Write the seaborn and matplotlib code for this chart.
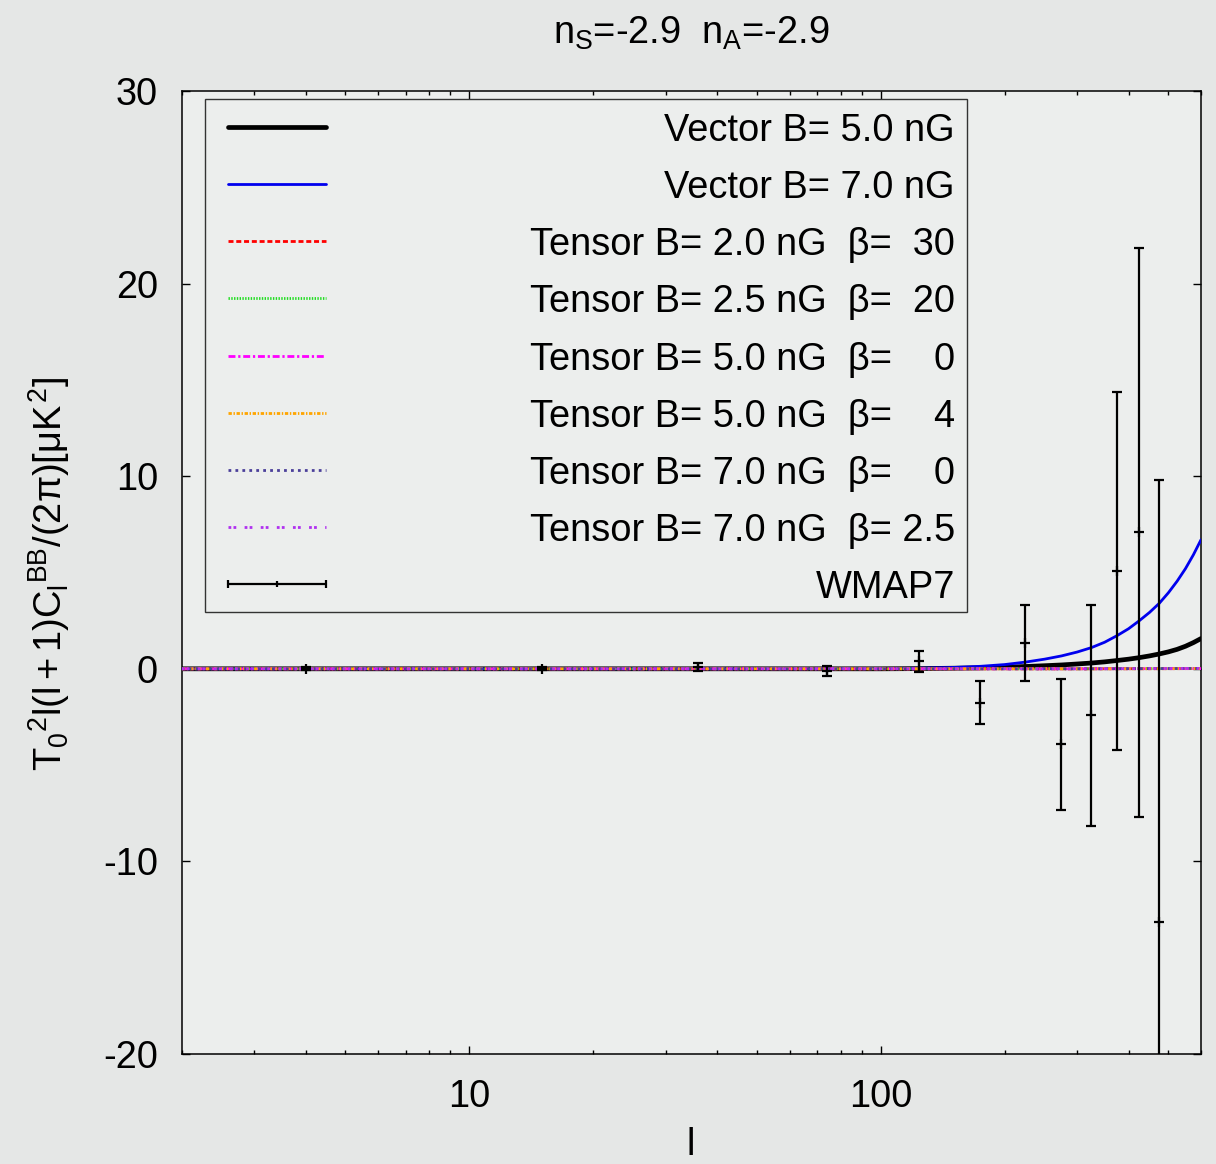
import matplotlib
matplotlib.use("Agg")
import matplotlib.pyplot as plt
import seaborn as sns
from matplotlib.patches import Rectangle
from matplotlib.ticker import FixedLocator, FixedFormatter, NullFormatter

# ---- model curves: multipole grid and B-mode power for vector modes ----
ell = [2, 10, 50, 100, 125, 150, 175, 200, 225, 250, 275, 300, 325, 350,
       375, 400, 425, 450, 475, 500, 525, 550, 575, 600]
vector_5nG = [0.0, 0.0, 0.0, 0.0, 0.01, 0.03, 0.05, 0.08, 0.12, 0.16, 0.20, 0.25,
              0.30, 0.36, 0.43, 0.50, 0.58, 0.67, 0.77, 0.88, 1.01, 1.17, 1.36, 1.57]
vector_7nG = [0.0, 0.0, 0.0, 0.01, 0.03, 0.07, 0.13, 0.22, 0.35, 0.50, 0.67, 0.87,
              1.10, 1.38, 1.72, 2.08, 2.50, 2.93, 3.40, 3.95, 4.55, 5.20, 5.92, 6.70]

# tensor modes (negligible on this scale)
ell_tensor = [2, 10, 100, 300, 600]
tensor_2p0_b30 = [0.0, 0.0, 0.0, 0.0, 0.01]
tensor_2p5_b20 = [0.0, 0.0, 0.0, 0.0, 0.01]
tensor_5p0_b0 = [0.0, 0.0, 0.0, 0.0, 0.01]
tensor_5p0_b4 = [0.0, 0.0, 0.0, 0.0, 0.01]
tensor_7p0_b0 = [0.0, 0.0, 0.0, 0.0, 0.02]
tensor_7p0_b2p5 = [0.0, 0.0, 0.0, 0.0, 0.02]

# WMAP7 binned BB band powers
wmap_l = [4, 15, 36, 74, 124, 174, 224, 274, 324, 374, 424, 474]
wmap_val = [0.0, 0.0, 0.1, -0.09, 0.38, -1.75, 1.35, -3.93, -2.42, 5.09, 7.10, -13.17]
wmap_err = [0.08, 0.08, 0.19, 0.26, 0.57, 1.10, 1.97, 3.42, 5.73, 9.30, 14.77, 22.97]

legend_labels = [
    "Vector B= 5.0 nG",
    "Vector B= 7.0 nG",
    "Tensor B= 2.0 nG  \u03b2=  30",
    "Tensor B= 2.5 nG  \u03b2=  20",
    "Tensor B= 5.0 nG  \u03b2=    0",
    "Tensor B= 5.0 nG  \u03b2=    4",
    "Tensor B= 7.0 nG  \u03b2=    0",
    "Tensor B= 7.0 nG  \u03b2= 2.5",
    "WMAP7",
]

sns.set_theme(style="ticks")
plt.rcParams["font.family"] = ["Liberation Sans", "DejaVu Sans"]
plt.rcParams["mathtext.fontset"] = "custom"
plt.rcParams["mathtext.rm"] = "Liberation Sans"
plt.rcParams["mathtext.it"] = "Liberation Sans"
plt.rcParams["mathtext.bf"] = "Liberation Sans"
plt.rcParams["axes.unicode_minus"] = False
plt.rcParams["text.color"] = "black"
plt.rcParams["axes.labelcolor"] = "black"

W, H = 1216, 1164
FS = 27.4
fig = plt.figure(figsize=(W / 100, H / 100), dpi=100, facecolor="#e5e7e6")

L, R, T, B = 181.7, 1201.0, 91.0, 1054.0
ax = fig.add_axes([L / W, 1 - B / H, (R - L) / W, (B - T) / H])
ax.set_facecolor("#eceeed")


def axx(px):
    return (px - L) / (R - L)


def axy(py):
    return (B - py) / (B - T)


ax.set_xscale("log")
ax.set_xlim(2, 600)
ax.set_ylim(-20, 30)

# line specs: (x, y, color, linewidth, linestyle)
series = [
    (ell, vector_5nG, "black", 3.4, "solid"),
    (ell, vector_7nG, "#0000ee", 2.0, "solid"),
    (ell_tensor, tensor_2p0_b30, "#ff0000", 2.0, (0, (1.8, 1.0))),
    (ell_tensor, tensor_2p5_b20, "#22dd22", 2.0, (0, (0.5, 0.5))),
    (ell_tensor, tensor_5p0_b0, "#ff00ff", 2.0, (0, (2.5, 1.0, 0.8, 1.0))),
    (ell_tensor, tensor_5p0_b4, "#ffa500", 2.0, (0, (1.2, 0.6, 0.5, 0.6))),
    (ell_tensor, tensor_7p0_b0, "#4b3f9a", 2.0, (0, (1.0, 1.5))),
    (ell_tensor, tensor_7p0_b2p5, "#b030f0", 2.0, (0, (1.0, 0.8, 1.0, 3.0))),
]

for xs, ys, c, lw, ls in series:
    sns.lineplot(x=xs, y=ys, ax=ax, color=c, linewidth=lw, linestyle=ls,
                 estimator=None, sort=False, legend=False, zorder=3)

# WMAP7 points with error bars
ax.errorbar(wmap_l, wmap_val, yerr=wmap_err, fmt="none", ecolor="black",
            elinewidth=1.6, capsize=3.6, capthick=1.6, zorder=4)
sns.scatterplot(x=wmap_l, y=wmap_val, ax=ax, marker="+", s=45, color="black",
                linewidth=1.6, legend=False, zorder=5)

# axes styling
for sp in ax.spines.values():
    sp.set_visible(True)
    sp.set_color("black")
    sp.set_linewidth(1.1)

ax.xaxis.set_major_locator(FixedLocator([10, 100]))
ax.xaxis.set_major_formatter(FixedFormatter(["10", "100"]))
minor = [m * d for d in (1, 10, 100) for m in range(2, 10) if 2 <= m * d <= 600]
ax.xaxis.set_minor_locator(FixedLocator(minor))
ax.xaxis.set_minor_formatter(NullFormatter())
ax.set_yticks([-20, -10, 0, 10, 20, 30])
ax.set_yticklabels(["-20", "-10", "0", "10", "20", "30"])

ax.tick_params(which="both", direction="in", top=True, right=True,
               color="black", width=1.0, labelsize=FS, labelcolor="black")
ax.tick_params(which="major", length=6)
ax.tick_params(which="minor", length=3)
ax.tick_params(axis="y", pad=17)
ax.tick_params(axis="x", pad=18)

# axis labels and title
ax.set_xlabel("l", fontsize=FS, va="baseline", color="black")
ax.xaxis.set_label_coords(axx(691), axy(1155))
ax.set_ylabel(r"$T_0{}^{2}l(l+1)C_l{}^{BB}/(2\pi)[\mu K^2]$", fontsize=FS,
              va="baseline", color="black")
ax.yaxis.set_label_coords(axx(62), axy(574))

fig.text(691 / W, 1 - 44 / H, r"$n_S$=-2.9  $n_A$=-2.9", ha="center",
         va="baseline", fontsize=FS, color="black")

# key box
ax.add_patch(Rectangle((axx(205), axy(612)), axx(967) - axx(205), axy(99) - axy(612),
                       transform=ax.transAxes, fill=False, ec="#333333", lw=1.0,
                       clip_on=False, zorder=6))
rows = [127, 184, 241, 298, 356, 413, 470, 527, 584]
x0, x1 = axx(228), axx(326)
for (xs, ys, c, lw, ls), ry in zip(series, rows):
    ax.plot([x0, x1], [axy(ry), axy(ry)], transform=ax.transAxes, color=c,
            linewidth=lw, linestyle=ls, clip_on=False, zorder=6)
ry = rows[-1]
ax.plot([x0, x1], [axy(ry), axy(ry)], transform=ax.transAxes, color="black",
        linewidth=1.6, clip_on=False, zorder=6)
ax.plot([x0, x1], [axy(ry), axy(ry)], transform=ax.transAxes, color="black",
        linestyle="none", marker="|", markersize=6, mew=1.6, clip_on=False, zorder=6)
ax.plot([axx(277)], [axy(ry)], transform=ax.transAxes, color="black",
        linestyle="none", marker="|", markersize=5, mew=1.6, clip_on=False, zorder=6)

for lab, ry in zip(legend_labels, rows):
    ax.text(axx(955), axy(ry + 14), lab, transform=ax.transAxes, ha="right",
            va="baseline", fontsize=FS, color="black", zorder=6)

fig.savefig("out.png", dpi=100, facecolor=fig.get_facecolor())
